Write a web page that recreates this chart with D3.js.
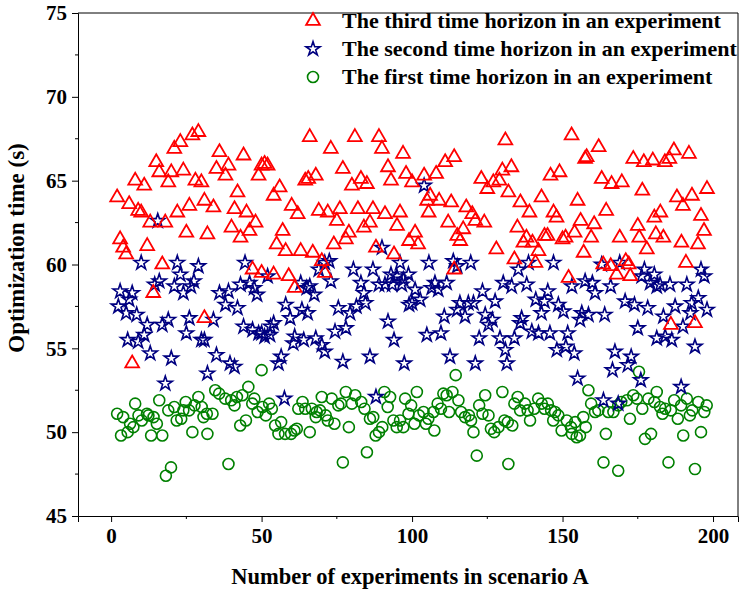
<!DOCTYPE html>
<html>
<head>
<meta charset="utf-8">
<script src="https://cdn.jsdelivr.net/npm/d3@7"></script>
<style>
  body { margin: 0; background: #fff; }
  svg { display: block; }
  text { font-family: "Liberation Serif", "Times New Roman", serif; font-weight: bold; fill: #000; }
</style>
</head>
<body>
<svg id="chart" width="740" height="593"></svg>
<script>
// [experiment, optimization time (s)]
const third = [
  [29,67.9],[27,67.7],[23,67.3],[21,66.9],[15,66.1],[16,65.5],[20,65.5],[24,65.6],[8,65.0],[11,64.7],[19,64.9],[28,65.0],[30,64.9],[2,64.0],[6,63.6],[9,63.2],[10,63.1],[13,62.5],[18,62.5],[22,63.1],[26,63.5],[31,63.8],[25,61.9],[32,61.8],[3,61.5],[4,61.0],[5,60.6],[12,61.1],[17,60.0],[14,58.3],[31,56.8],[7,54.1],
  [66,67.6],[36,66.7],[44,66.5],[35,65.7],[39,65.9],[38,65.3],[50,65.9],[51,66.0],[52,65.9],[49,65.3],[64.5,65.0],[65.5,65.1],[42,64.3],[56,64.6],[54,64.1],[34,63.4],[41,63.3],[45,63.1],[60,63.5],[62,63.0],[48,62.5],[40,62.2],[46,62.0],[43,61.6],[57,62.0],[55,61.2],[58,60.8],[63,60.8],[47,59.7],[50,59.5],[54,59.4],[59,59.3],[61,58.6],
  [81,67.6],[89,67.6],[73,66.9],[90,66.9],[97,66.6],[77,65.7],[92,65.8],[98,65.4],[68,65.3],[83,65.1],[80,64.7],[85,64.8],[93,65.0],[69,63.2],[72,63.1],[76,63.3],[82,63.3],[87,63.3],[91,63.0],[96,63.1],[75,62.6],[86,62.5],[84,62.2],[95,62.3],[79,61.9],[74,61.2],[78,61.5],[67,60.7],[88,61.0],[94,60.6],[70,60.2],[71,59.5],
  [131,67.4],[114,66.4],[111,66.1],[104,65.3],[108,65.4],[100,64.9],[123,65.1],[127,64.9],[129,65.0],[125,64.5],[130,65.6],[132,64.3],[106,64.1],[105,63.8],[109,63.8],[113,63.7],[105.5,63.1],[118,63.4],[120,63.0],[121,62.6],[124,62.5],[112,62.5],[117,62.1],[115,61.7],[116,61.4],[101,61.9],[99,61.4],[102,61.2],[128,60.9],[114,59.7],
  [153,67.7],[162,67.0],[158,66.4],[157.5,66.3],[133,65.8],[146,65.3],[149,65.5],[163,65.1],[143,64.0],[136,63.7],[155,63.8],[139,63.1],[147,63.1],[148,62.8],[164.5,63.2],[156,62.6],[135,62.2],[160.5,62.4],[138,61.6],[137,61.3],[140,61.3],[144,61.7],[145,61.7],[150,61.5],[151,61.6],[154,61.9],[159.5,61.6],[142,60.8],[157,60.7],[134,60.3],[141,60.1],[163.5,60.0],[152,59.2],
  [187,66.8],[192,66.6],[173.5,66.3],[177,66.1],[180,66.2],[184,66.1],[185.5,66.3],[166.3,64.8],[169.7,64.9],[176.5,64.4],[198,64.5],[188,64.0],[193,64.1],[190,63.5],[182.5,63.1],[180.5,62.8],[196,62.9],[175,62.3],[197,62.0],[169,61.6],[175.5,61.6],[181,61.8],[183.5,61.6],[189.5,61.3],[195,61.2],[178,60.9],[191,60.1],[166,59.9],[171,60.2],[172,60.0],[168,59.4],[172.5,59.3],[186,56.4],[194,56.5]
];
const second = [
  [15.5,62.6],[10,60.1],[22,60.1],[29,59.9],[23,59.4],[16,59.0],[14.5,58.8],[27.5,59.0],[26.5,58.7],[21,58.7],[24,58.3],[3,58.4],[7,58.3],[6,57.9],[2.4,57.5],[5,57.1],[8.5,57.0],[12,56.4],[17,56.4],[19,56.7],[26,56.8],[25,55.9],[30,55.5],[31,55.5],[5.5,55.5],[9,55.4],[11,55.8],[13,54.7],[20,54.4],[32,53.5],[18,52.9],
  [44.5,60.1],[52,59.3],[46,58.9],[43,58.8],[47.5,58.6],[48.5,58.2],[36,58.3],[39,58.4],[38,57.6],[42,57.4],[58,57.6],[63,58.9],[65,58.6],[34,56.7],[59.5,56.8],[63.4,57.3],[54,56.5],[53,56.3],[44,56.3],[47,56.1],[50,55.9],[52.8,55.8],[49,55.9],[51,55.7],[61,55.7],[60.5,55.3],[64,55.5],[35,54.6],[56.5,54.5],[55.6,54.1],[39.5,54.1],[41,53.9],[57.6,52.0],
  [90,61.0],[71,60.1],[72.5,60.2],[69,59.7],[80.5,59.7],[87,59.7],[96,60.1],[73,59.0],[83,58.9],[89,58.8],[91,58.8],[93,59.4],[94.9,59.3],[97.1,59.1],[98.8,59.4],[93.4,58.8],[96.6,58.8],[66,58.7],[67.5,58.2],[84,58.3],[84.5,57.7],[81.5,57.5],[75.5,57.4],[99,57.6],[65.3,57.1],[79.4,57.1],[92,56.6],[74.4,56.0],[78,56.2],[68,55.6],[70,55.2],[71,54.8],[94,55.5],[86,54.5],[77,54.2],[97.4,54.1],[88,52.1],
  [104,64.7],[105.6,60.1],[113.7,60.2],[115,59.9],[119.5,60.1],[107.6,58.9],[111.5,58.9],[108.7,58.5],[106.5,58.6],[101,58.5],[102.7,57.9],[100,57.7],[123.4,58.4],[127.6,57.8],[130.3,58.9],[115.9,57.7],[118.7,57.7],[120.4,57.7],[115,57.3],[117.6,56.9],[110.7,56.9],[124.3,57.0],[126.7,56.7],[125.4,56.4],[104.9,55.8],[109.6,55.9],[122.3,55.6],[129.2,55.6],[131,54.9],[112.6,54.5],[121,54.1],[131.5,54.1],
  [135.3,59.7],[138.7,60.1],[147,60.1],[163,60.0],[133.1,58.7],[138.1,58.8],[145.1,58.4],[141.1,57.9],[144,57.8],[148.6,57.6],[153.1,58.7],[157.5,59.0],[159.9,58.9],[160.8,58.3],[143,57.1],[150.3,57.2],[156.4,57.1],[155.8,56.7],[158.6,57.0],[164,57.0],[136.4,56.8],[135.9,56.5],[139.8,56.0],[142,55.9],[145.8,55.9],[151.7,55.9],[134,55.6],[148.1,54.9],[151.1,55.1],[153.9,54.7],[155,53.2],[163.6,51.9],
  [196,59.7],[197.1,59.3],[177.2,59.7],[180.5,59.4],[176.3,59.3],[179.1,58.9],[182.4,58.8],[185.7,58.8],[181.3,58.7],[191.3,58.8],[166,58.7],[169,60.1],[170.8,57.8],[173.9,57.6],[178.3,57.4],[187.4,57.5],[192.9,57.7],[195.1,58.0],[183.5,56.9],[198,57.3],[190,56.3],[192.5,57.1],[175,56.2],[181.3,55.6],[184.1,55.7],[186.3,55.5],[194,55.1],[167.4,54.8],[172.8,54.5],[171.7,54.0],[166.6,53.7],[176,53.1],[189.4,52.7],[168.5,51.7]
];
const first = [
  [8,51.7],[16,51.9],[2,51.1],[4,50.9],[9.1,51.0],[11.9,51.1],[10.2,50.7],[12.4,51.0],[14.1,50.9],[15.2,50.5],[6.3,50.5],[7.4,50.3],[5.5,50.0],[3.3,49.8],[13.3,49.8],[17,49.8],[19,51.3],[21,51.5],[24.8,51.8],[29,52.1],[27.7,51.6],[30.1,51.5],[24,51.3],[25.9,51.3],[21.8,50.7],[23.3,50.8],[30.7,50.9],[31.8,51.1],[27,50.0],[32,49.9],[19.9,47.9],[18.2,47.4],
  [50,53.7],[34.6,52.5],[35.9,52.3],[37.9,52.0],[39.9,51.9],[41,51.6],[41.8,52.1],[43.6,52.2],[45.6,52.7],[47.6,52.0],[46.9,51.7],[48.7,51.2],[50.3,51.5],[52.5,51.7],[53.4,51.4],[51.4,51.0],[33.7,51.1],[44.8,50.7],[42.9,50.4],[56.5,50.6],[54.5,50.4],[55.6,49.9],[57.8,49.9],[59.8,49.9],[60.9,50.1],[61.7,50.2],[63.6,51.8],[62.2,51.4],[64.5,51.4],[66,50.0],[39,48.1],
  [78,52.4],[81.1,52.2],[70,52.1],[73.3,52.0],[75.5,51.6],[76.4,51.7],[80,51.7],[83.1,51.8],[84.2,51.4],[66.7,51.4],[68.3,51.2],[69.4,51.3],[68,50.9],[71.3,51.0],[72,50.7],[74.2,50.5],[79,50.3],[90.8,52.4],[92.7,52.1],[91.9,51.5],[97.7,52.0],[86,50.8],[87.1,50.9],[90.1,50.3],[89,50.0],[87.9,49.8],[93.8,50.7],[96,50.7],[94.9,50.3],[97.1,50.3],[85,48.8],[77,48.2],
  [114.5,53.4],[101.6,52.4],[110.4,52.3],[111.5,52.2],[113.4,52.4],[115.4,51.9],[124.3,52.2],[130,52.4],[99.7,51.6],[98.8,51.1],[108.5,51.7],[107.1,51.2],[109.6,51.4],[103.8,51.2],[102.3,51.0],[105.4,50.8],[104.6,50.5],[100.8,50.5],[107.4,50.1],[112.3,51.2],[116.3,51.2],[117.6,50.9],[118.9,51.0],[119.6,50.7],[122.3,51.6],[123.4,51.1],[125.4,51.0],[120.4,50.0],[126.2,50.2],[127.3,50.0],[128.7,50.3],[130.7,50.7],[131.8,50.6],[121.5,48.6],[132,48.1],
  [158.6,52.5],[135.1,52.1],[134,51.7],[137.5,51.7],[135.9,51.3],[138.4,51.3],[140.6,51.4],[141.9,52.0],[143.1,51.7],[144,51.4],[145.1,51.7],[146.2,51.3],[147.5,51.2],[148.6,51.0],[133.3,50.4],[139.2,50.7],[146.9,50.7],[149.7,50.1],[151.4,50.7],[152.8,50.3],[154.2,50.6],[153.1,49.9],[154.7,49.7],[155.8,49.8],[156.9,50.9],[157.7,50.3],[159.5,51.7],[160.8,51.2],[161.9,51.3],[165.2,51.2],[164.4,49.9],[163.6,48.2],
  [175.4,53.6],[181.3,52.4],[173.5,52.2],[174.7,52.0],[171.4,51.9],[169.5,51.8],[178.5,52.0],[180.5,51.8],[182.4,51.5],[184.1,51.4],[186,51.3],[187.1,51.9],[191.3,52.0],[189.4,51.6],[193.1,51.3],[192.3,51.0],[195.1,51.8],[197.9,51.6],[197.1,51.2],[166.9,51.2],[168.5,51.6],[176.5,51.4],[183.2,51.1],[188.3,50.8],[172.4,50.8],[179.4,49.9],[177.4,49.6],[190.1,49.8],[196,50.0],[185.2,48.2],[194,47.8],[168.5,47.7]
];

const xTicks = [0, 50, 100, 150, 200];
const yTicks = [45, 50, 55, 60, 65, 70, 75];
const legendLabels = [
  "The third time horizon in an experiment",
  "The second time horizon in an experiment",
  "The first time horizon in an experiment"
];

const svg = d3.select("#chart");
const plot = { left: 78, right: 738, top: 13, bottom: 516 };

const xScale = d3.scaleLinear().domain([-11, 208.3]).range([plot.left, plot.right]);
const yScale = d3.scaleLinear().domain([45, 75]).range([plot.bottom, plot.top]);

// series styles (drawn first -> last)
const series = [
  { data: first, color: "#008000", type: d3.symbolCircle, size: 95, width: 1.6 },
  { data: second, color: "#000080", type: d3.symbolStar, size: 62, width: 1.6 },
  { data: third, color: "#ff0000", type: d3.symbolTriangle, size: 82, width: 1.8 }
];

series.forEach(s => {
  svg.append("g")
    .selectAll("path")
    .data(s.data)
    .enter()
    .append("path")
    .attr("transform", d => `translate(${xScale(d[0])},${yScale(d[1])})`)
    .attr("d", d3.symbol().type(s.type).size(s.size))
    .attr("fill", "none")
    .attr("stroke", s.color)
    .attr("stroke-width", s.width);
});

// axes
const xAxis = svg.append("g")
  .attr("transform", `translate(0,${plot.bottom})`)
  .call(d3.axisBottom(xScale).tickValues(xTicks).tickSize(6).tickPadding(6));
xAxis.selectAll("text").style("font-size", "21px");

const yAxis = svg.append("g")
  .attr("transform", `translate(${plot.left},0)`)
  .call(d3.axisLeft(yScale).tickValues(yTicks).tickSize(6).tickPadding(5));
yAxis.selectAll("text").style("font-size", "21px");

// minor ticks
svg.append("g").selectAll("line")
  .data([25, 75, 125, 175])
  .enter().append("line")
  .attr("x1", d => xScale(d)).attr("x2", d => xScale(d))
  .attr("y1", plot.bottom).attr("y2", plot.bottom + 3)
  .attr("stroke", "#000");
svg.append("g").selectAll("line")
  .data([47.5, 52.5, 57.5, 62.5, 67.5, 72.5])
  .enter().append("line")
  .attr("x1", plot.left - 3).attr("x2", plot.left)
  .attr("y1", d => yScale(d)).attr("y2", d => yScale(d))
  .attr("stroke", "#000");

[xAxis, yAxis].forEach(a => {
  a.select(".domain").attr("stroke", "#000").attr("stroke-width", 1);
  a.selectAll(".tick line").attr("stroke", "#000");
  a.selectAll("text").attr("fill", "#000").style("font-family", "Liberation Serif").style("font-weight", "bold");
});

// frame top and right
svg.append("line")
  .attr("x1", plot.left).attr("x2", plot.right)
  .attr("y1", plot.top).attr("y2", plot.top)
  .attr("stroke", "#000");
svg.append("line")
  .attr("x1", plot.right).attr("x2", plot.right)
  .attr("y1", plot.top).attr("y2", plot.bottom)
  .attr("stroke", "#000");

// axis titles
svg.append("text")
  .attr("x", 410)
  .attr("y", 584)
  .attr("text-anchor", "middle")
  .style("font-size", "22.5px")
  .text("Number of experiments in scenario A");

svg.append("text")
  .attr("transform", `translate(24,248) rotate(-90)`)
  .attr("text-anchor", "middle")
  .style("font-size", "23px")
  .text("Optimization time (s)");

// legend
const legendSeries = [series[2], series[1], series[0]];
const legend = svg.append("g");
legendSeries.forEach((s, i) => {
  const y = 21 + i * 28;
  legend.append("path")
    .attr("transform", `translate(313,${y})`)
    .attr("d", d3.symbol().type(s.type).size(s.size))
    .attr("fill", "none")
    .attr("stroke", s.color)
    .attr("stroke-width", s.width);
  legend.append("text")
    .attr("x", 342)
    .attr("y", y + 7)
    .style("font-size", "22px")
    .text(legendLabels[i]);
});
</script>
</body>
</html>
